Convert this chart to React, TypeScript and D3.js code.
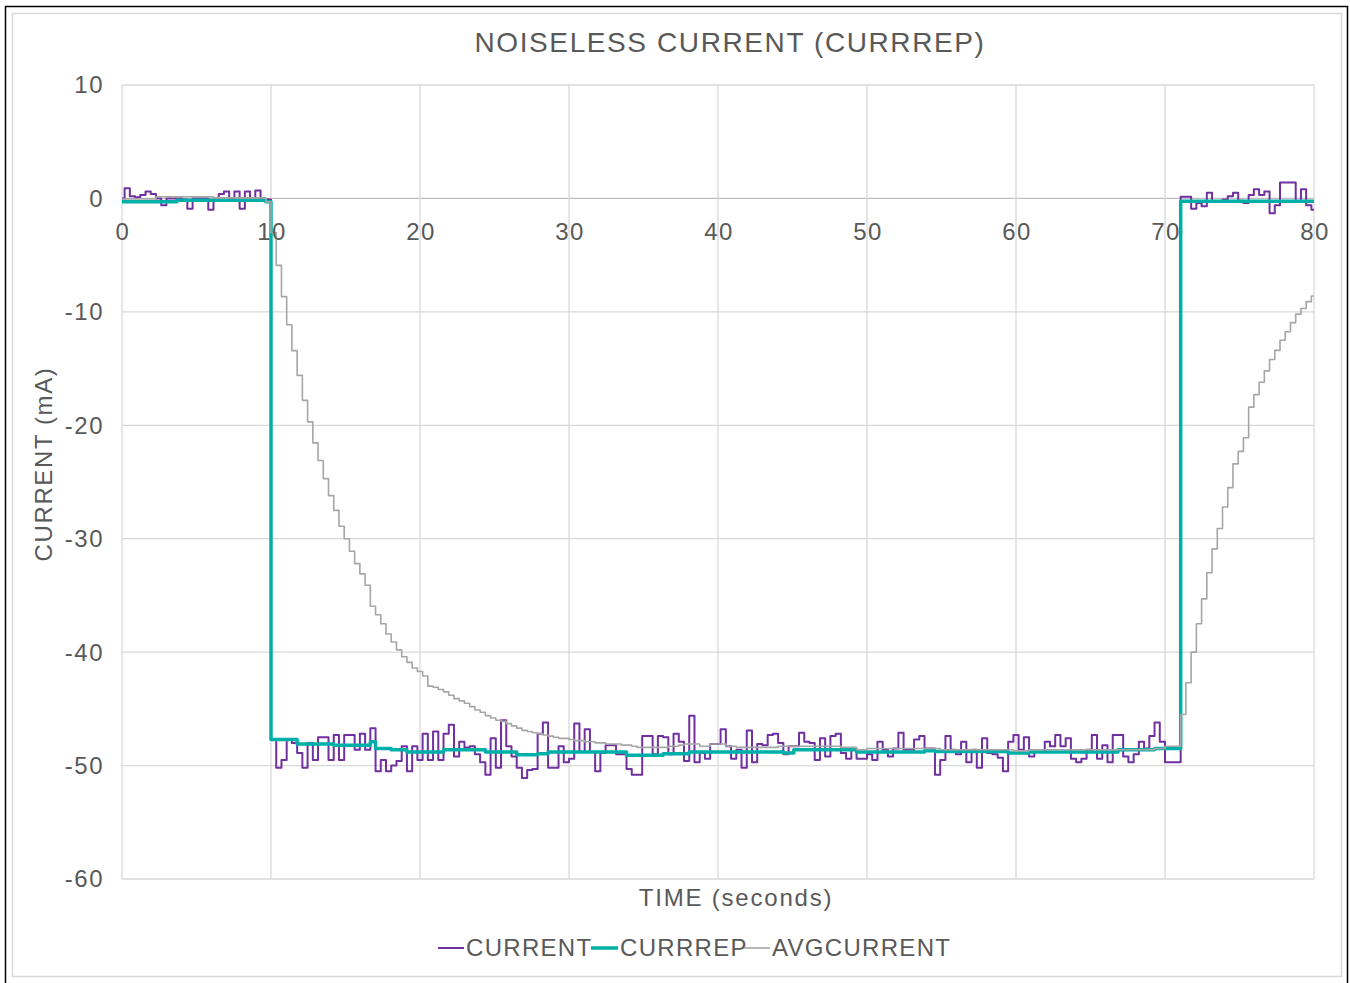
import React from "react";
import * as d3 from "d3";

// ---- DATA (sampled every ~0.351 s over 0..80 s) ----
const X_TICKS = [0, 10, 20, 30, 40, 50, 60, 70, 80];
const Y_TICKS = [10, 0, -10, -20, -30, -40, -50, -60];
const SERIES_NAMES = ["CURRENT", "CURRREP", "AVGCURRENT"];

const CURRENT = [
  0.0, 0.9, 0.2, 0.1, 0.3, 0.6, 0.4, 0.0, -0.6, 0.0,
  0.0, 0.0, -0.1, -0.9, 0.0, 0.0, 0.0, -1.0, -0.1, 0.4,
  0.6, 0.0, 0.6, -0.9, 0.6, -0.2, 0.7, -0.1, -0.1,
  -47.7, -50.2, -49.5, -47.7, -48.0, -48.9, -50.2, -48.0, -49.5, -47.5,
  -47.5, -49.5, -47.3, -49.5, -47.3, -47.3, -48.6, -47.2, -48.6, -46.7,
  -50.5, -49.5, -50.5, -50.0, -49.6, -48.3, -50.5, -48.3, -49.5, -47.2,
  -49.5, -47.0, -49.5, -47.2, -46.4, -49.2,
  -47.9, -48.4, -48.3, -49.0, -49.7, -50.8, -47.6, -50.2, -46.0, -48.3,
  -49.2, -50.2, -51.1, -50.4, -50.3, -47.2, -46.2, -50.2, -50.2, -48.3,
  -49.7, -49.4, -46.3, -48.8, -46.8, -48.8, -50.5, -48.9, -48.2, -48.2,
  -49.0, -49.0, -50.3, -50.8,
  -50.8, -47.4, -47.4, -49.0, -47.4, -47.5, -49.0, -47.2, -47.9, -49.6,
  -45.6, -49.7, -48.9, -49.4, -48.1, -48.1, -46.8, -48.3, -49.4, -48.6,
  -50.2, -46.9, -49.7, -48.1, -48.2, -47.3, -47.2, -48.0, -49.0, -48.3,
  -48.3, -47.1, -47.9, -48.0, -49.5, -47.6, -49.2, -47.4,
  -47.2, -48.9, -49.4, -48.6, -49.4, -49.4, -49.0, -49.5, -47.9, -48.6,
  -49.2, -48.5, -47.1, -48.6, -48.6, -47.7, -47.4, -48.5, -48.5, -50.8,
  -49.5, -47.4, -48.6, -49.0, -47.9, -49.7, -48.6, -50.2, -47.6, -48.9,
  -49.0, -49.3, -50.5, -47.9, -47.3, -48.6,
  -47.5, -49.2, -48.8, -48.8, -47.9, -48.3, -47.3, -48.3, -47.6, -49.4,
  -49.7, -49.4, -48.6, -47.3, -49.4, -48.2, -49.7, -47.3, -47.3, -49.2,
  -49.7, -49.0, -47.9, -48.5, -47.4, -46.2, -47.9, -49.7, -49.7, -49.7,
  0.15, 0.15, -0.9, -0.4, -0.7, 0.5, -0.3, -0.3, -0.1, 0.2,
  0.5, -0.2, -0.4, 0.3, 0.8, 0.3, 0.6, -1.3, -0.6, 1.4,
  1.4, 1.4, -0.3, 0.8, -0.6, -1.0,
];

const CURRREP = [
  -0.3, -0.3, -0.3, -0.3, -0.3, -0.3, -0.3, -0.3, -0.3, -0.3,
  -0.3, -0.15, -0.15, -0.15, -0.15, -0.15, -0.15, -0.15, -0.15, -0.15,
  -0.15, -0.15, -0.15, -0.15, -0.15, -0.15, -0.15, -0.15, -0.3,
  -47.7, -47.7, -47.7, -47.7, -47.7,
  -48.1, -48.1, -48.1, -48.1, -48.1, -48.1, -48.1, -48.2, -48.2, -48.2, -48.2, -48.2, -48.2, -48.2,
  -47.9, -48.5, -48.5, -48.5, -48.6, -48.6, -48.6,
  -48.8, -48.8, -48.8, -48.8, -48.8, -48.8, -48.8,
  -48.6, -48.6, -48.6, -48.6, -48.6, -48.6, -48.6, -48.6,
  -48.8, -48.8, -48.8, -48.8, -48.8, -48.8,
  -49.05, -49.05, -49.05, -49.05, -48.95, -48.95,
  -48.8, -48.8, -48.8, -48.8, -48.8, -48.8, -48.8, -48.8, -48.8, -48.8, -48.8, -48.8, -48.8, -48.8, -48.8,
  -49.1, -49.1, -49.1, -49.1, -49.1, -49.1, -49.1,
  -48.95, -48.95, -48.95, -48.95, -48.95,
  -48.8, -48.8, -48.8, -48.8, -48.8, -48.8, -48.8, -48.8, -48.8, -48.8, -48.8, -48.8, -48.8, -48.8, -48.8, -48.8, -48.8, -48.8,
  -48.9, -48.9,
  -48.6, -48.6, -48.6, -48.6, -48.6, -48.6, -48.6, -48.6, -48.6, -48.6, -48.6, -48.6,
  -48.8, -48.8, -48.8, -48.8, -48.8, -48.8, -48.8, -48.8, -48.8, -48.8, -48.8, -48.8, -48.8,
  -48.7, -48.7,
  -48.75, -48.75, -48.75, -48.75, -48.75, -48.75, -48.75, -48.75, -48.75, -48.75, -48.75, -48.75, -48.75, -48.75,
  -48.9, -48.9, -48.9, -48.9,
  -48.8, -48.8, -48.8, -48.8, -48.8, -48.8, -48.8, -48.8, -48.8, -48.8, -48.8, -48.8, -48.8, -48.8, -48.8, -48.8, -48.8,
  -48.6, -48.6, -48.6, -48.6, -48.6, -48.6, -48.6,
  -48.5, -48.5, -48.5, -48.5, -48.5,
  -0.25, -0.25, -0.25, -0.25, -0.25, -0.25, -0.25, -0.25, -0.25, -0.25,
  -0.25, -0.25, -0.25, -0.25, -0.25, -0.25, -0.25, -0.25, -0.25, -0.25,
  -0.25, -0.25, -0.25, -0.25, -0.25, -0.25,
];

const AVGCURRENT = [
  -0.05, -0.05, -0.05, -0.05, -0.05, -0.05, -0.05,
  0.15, 0.15, 0.15, 0.15, 0.15, 0.15, 0.15, 0.15, 0.15, 0.15, 0.15,
  0.05, 0.05, 0.05, 0.05, 0.05, 0.05, 0.05, 0.05, 0.05, 0.05, -0.3,
  -3.0, -5.9, -8.66, -11.13, -13.42, -15.6, -17.8, -19.7, -21.55, -23.1,
  -24.7, -26.2, -27.5, -28.9, -30.0, -31.1, -32.2, -33.1, -34.1, -35.95,
  -36.7, -37.5, -38.4, -39.1, -39.8, -40.4, -40.9, -41.4, -41.7, -42.1,
  -43.0, -43.1, -43.3, -43.5, -43.8, -44.1,
  -44.3, -44.5, -44.8, -45.1, -45.3, -45.6, -45.8, -46.0, -46.1, -46.3,
  -46.5, -46.7, -46.9, -47.0, -47.1, -47.2, -47.3, -47.4, -47.5, -47.6,
  -47.6, -47.7, -47.8, -47.8, -47.9, -47.9, -48.0, -48.0, -48.1, -48.1,
  -48.1, -48.2, -48.2, -48.3,
  -48.4, -48.4, -48.4, -48.4, -48.4, -48.4, -48.3, -48.3, -48.2, -48.1,
  -48.1, -48.1, -48.3, -48.3, -48.1, -48.1, -48.1, -48.3, -48.3, -48.4,
  -48.4, -48.4, -48.4, -48.4, -48.4, -48.4, -48.4, -48.3, -48.3, -48.3,
  -48.3, -48.3, -48.3, -48.3, -48.3, -48.3, -48.3, -48.3, -48.3,
  -48.4, -48.4, -48.4, -48.6, -48.6,
  -48.5, -48.5, -48.5, -48.5, -48.5, -48.5, -48.5, -48.5, -48.5, -48.5, -48.5, -48.5, -48.5, -48.5,
  -48.6, -48.6, -48.6, -48.6, -48.6, -48.6, -48.6, -48.6, -48.6, -48.6, -48.6, -48.6, -48.6, -48.6,
  -48.7, -48.7, -48.7,
  -48.6, -48.6, -48.6, -48.6, -48.6, -48.6, -48.6, -48.6, -48.6, -48.6, -48.6, -48.6,
  -48.6, -48.6, -48.6, -48.6, -48.6, -48.6, -48.6, -48.6, -48.6, -48.6, -48.6, -48.6,
  -48.5, -48.5, -48.3, -48.3, -48.3,
  -45.5, -42.7, -40.0, -37.5, -35.3, -33.0, -30.9, -29.1, -27.2, -25.5,
  -23.4, -22.3, -21.1, -18.4, -17.3, -16.2, -15.2, -14.2, -13.4, -12.5,
  -11.75, -10.95, -10.2, -9.7, -9.1, -8.6,
];

const T_END = 80;

const COLORS = ["#7030A0", "#00B0A8", "#A6A6A6"];
const WIDTHS = [2, 3.5, 1.6];

export default function App() {
  const W = 1350, H = 983;
  const left = 122, right = 1314, top = 85, bottom = 879;
  const x = d3.scaleLinear().domain([0, 80]).range([left, right]);
  const y = d3.scaleLinear().domain([10, -60]).range([top, bottom]);
  const series = [CURRENT, CURRREP, AVGCURRENT];
  const n = CURRENT.length;
  const times = d3.range(n).map((i) => (i * T_END) / (n - 1));
  const line = d3
    .line<number>()
    .x((_, i) => x(times[i]))
    .y((d) => y(d))
    .curve(d3.curveStep);

  const font = "'Liberation Sans', Arial, sans-serif";
  const txt = "#595959";

  const legendItems = [
    { x0: 438, x1: 464, tx: 466 },
    { x0: 591, x1: 618, tx: 620 },
    { x0: 744, x1: 770, tx: 772 },
  ];

  return (
    <svg
      width={W}
      height={H}
      style={{ position: "absolute", left: 0, top: 0, background: "#fff" }}
      fontFamily={font}
    >
      <rect x={5.5} y={6.5} width={1342} height={990} fill="#fff" stroke="#000" strokeWidth={1.5} />
      <rect x={12.5} y={13.5} width={1329} height={963} fill="#fff" stroke="#D9D9D9" strokeWidth={1.5} />

      {/* grid */}
      {Y_TICKS.map((v) => (
        <line key={"h" + v} x1={left} x2={right} y1={y(v)} y2={y(v)} stroke={v === 0 ? "#BFBFBF" : "#D9D9D9"} strokeWidth={1.3} />
      ))}
      {X_TICKS.map((v) => (
        <line key={"v" + v} x1={x(v)} x2={x(v)} y1={top} y2={bottom} stroke="#D9D9D9" strokeWidth={1.3} />
      ))}

      {/* series */}
      {series.map((s, k) => (
        <path key={k} d={line(s) || ""} fill="none" stroke={COLORS[k]} strokeWidth={WIDTHS[k]} strokeLinejoin="round" />
      ))}

      {/* y tick labels */}
      {Y_TICKS.map((v) => (
        <text key={"yl" + v} x={104} y={y(v)} dy="0.35em" textAnchor="end" fontSize={24} letterSpacing={1.5} fill={txt}>
          {v}
        </text>
      ))}
      {/* x tick labels */}
      {X_TICKS.map((v) => (
        <text key={"xl" + v} x={x(v) + 1} y={y(0) + 33} dy="0.35em" textAnchor="middle" fontSize={24} letterSpacing={1.5} fill={txt}>
          {v}
        </text>
      ))}

      {/* title */}
      <text x={730} y={42} dy="0.35em" textAnchor="middle" fontSize={28} letterSpacing={1.6} fill={txt}>
        NOISELESS CURRENT (CURRREP)
      </text>
      {/* axis titles */}
      <text x={736} y={898} dy="0.35em" textAnchor="middle" fontSize={24} letterSpacing={1.8} fill={txt}>
        TIME (seconds)
      </text>
      <text transform="translate(44,464) rotate(-90)" dy="0.35em" textAnchor="middle" fontSize={24} letterSpacing={1.6} fill={txt}>
        CURRENT (mA)
      </text>

      {/* legend */}
      {legendItems.map((it, k) => (
        <g key={"lg" + k}>
          <line x1={it.x0} x2={it.x1} y1={948} y2={948} stroke={COLORS[k]} strokeWidth={WIDTHS[k]} />
          <text x={it.tx} y={948} dy="0.35em" fontSize={24} letterSpacing={1.3} fill={txt}>
            {SERIES_NAMES[k]}
          </text>
        </g>
      ))}
    </svg>
  );
}
